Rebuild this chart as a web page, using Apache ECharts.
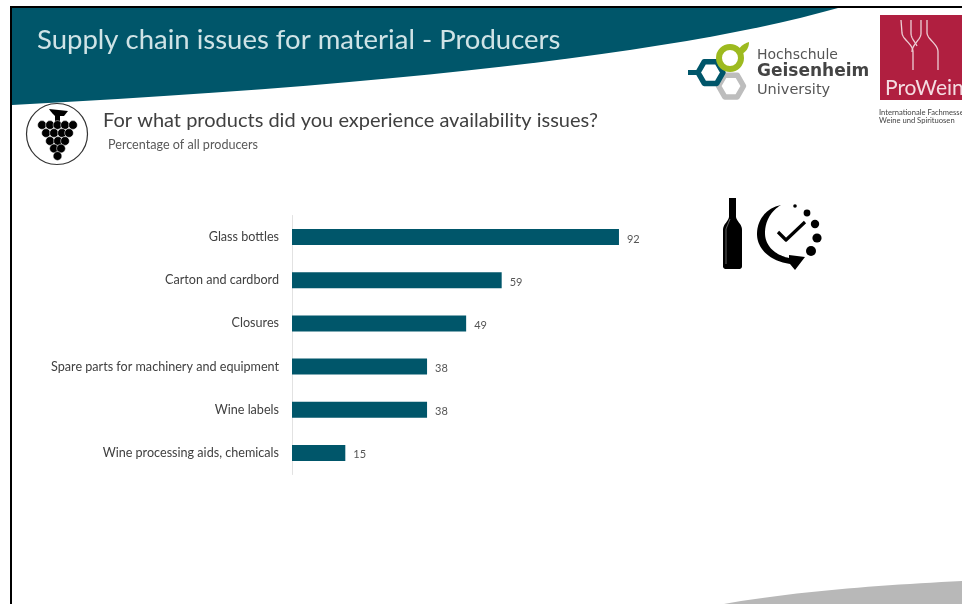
<!DOCTYPE html>
<html>
<head>
<meta charset="utf-8">
<style>html,body{margin:0;padding:0;background:#fff}#c{width:962px;height:604px}</style>
<script src="https://cdn.jsdelivr.net/npm/echarts@6/dist/echarts.min.js"></script>
</head>
<body>
<div id="c"></div>
<script>
const categories = ['Glass bottles','Carton and cardbord','Closures','Spare parts for machinery and equipment','Wine labels','Wine processing aids, chemicals'];
const shares = [92, 59, 49, 38, 38, 15];
const slideTitle = 'Supply chain issues for material - Producers';
const question = 'For what products did you experience availability issues?';
const subtitle = 'Percentage of all producers';

const TEAL = '#00566a';
const FONT = 'Lato, "Open Sans", sans-serif';

const txt = (x, y, text, fontSize, fill, extra) => ({
  type: 'text', x, y, z: 10,
  style: Object.assign({ text, fontSize, fill, fontFamily: FONT, textVerticalAlign: 'middle' }, extra || {})
});
const dot = (cx, cy, r, fill) => ({ type: 'circle', z: 9, shape: { cx, cy, r }, style: { fill: fill || '#000' } });
const hexagon = (cx, cy, r, color, w) => ({
  type: 'polygon', z: 9,
  shape: { points: [[cx - r, cy], [cx - r / 2, cy - r * 0.87], [cx + r / 2, cy - r * 0.87], [cx + r, cy], [cx + r / 2, cy + r * 0.87], [cx - r / 2, cy + r * 0.87]] },
  style: { fill: 'none', stroke: color, lineWidth: w, lineJoin: 'round' }
});

// Flatten a small M/L/C outline (absolute page coordinates) into a point list
function outline(d) {
  const tokens = d.match(/[MLCZ]|-?[\d.]+/g);
  const pts = [];
  let i = 0, cmd = null, cur = [0, 0];
  const num = () => parseFloat(tokens[i++]);
  while (i < tokens.length) {
    if (/[MLCZ]/.test(tokens[i])) cmd = tokens[i++];
    if (cmd === 'Z') continue;
    if (cmd === 'C') {
      const a = [num(), num()], b = [num(), num()], c = [num(), num()];
      for (let k = 1; k <= 24; k++) {
        const t = k / 24, u = 1 - t;
        pts.push([
          u*u*u*cur[0] + 3*u*u*t*a[0] + 3*u*t*t*b[0] + t*t*t*c[0],
          u*u*u*cur[1] + 3*u*u*t*a[1] + 3*u*t*t*b[1] + t*t*t*c[1]
        ]);
      }
      cur = c;
    } else {
      cur = [num(), num()];
      pts.push(cur);
    }
  }
  return pts;
}
const solid = (d, fill, z) => ({ type: 'polygon', z: z || 9, shape: { points: outline(d) }, style: { fill } });
const stroke = (d, color, lineWidth, z) => ({ type: 'polyline', z: z || 9, shape: { points: outline(d) }, style: { fill: 'none', stroke: color, lineWidth, lineJoin: 'round' } });

// Grape bunch badge
const grapes = [
  [42,125],[50,125],[57.5,125],[65,125],[73,125],
  [46,133],[54,133],[62,133],[69,133],
  [50,141],[58,141],[65,141],
  [54,148.5],[61,148.5],
  [57.5,156]
].map(p => ({ type: 'circle', z: 9, shape: { cx: p[0], cy: p[1], r: 4.4 }, style: { fill: '#000', stroke: '#fff', lineWidth: 0.5 } }));

const decorations = [
  solid('M12 8 L838 8 C 700 47, 450 82, 12 105 Z', TEAL, 2),
  solid('M724 604 C 790 592, 880 585, 962 581 L962 604 Z', '#b8b8b8', 2),
  { type: 'rect', z: 3, shape: { x: 10, y: 6, width: 952, height: 2 }, style: { fill: '#000' } },
  { type: 'rect', z: 3, shape: { x: 10, y: 6, width: 2, height: 598 }, style: { fill: '#000' } },

  txt(37, 40, slideTitle, 27.5, '#cfe3e6'),
  txt(103, 121, question, 20, '#404040'),
  txt(108, 145, subtitle, 12.6, '#595959'),

  { type: 'circle', z: 8, shape: { cx: 57, cy: 134, r: 30.5 }, style: { fill: '#fff', stroke: '#333', lineWidth: 1.2 } },
  solid('M49 109 L68 111 L64 116 L60 116 L60 122 L55 122 L55 116 C 53 114, 51 112, 49 109 Z', '#000'),
  ...grapes,

  // University logo
  hexagon(731, 86, 12.5, '#bdbdbd', 5.5),
  hexagon(710.5, 72.5, 12.5, TEAL, 5.5),
  { type: 'rect', z: 9, shape: { x: 688, y: 70, width: 9, height: 5 }, style: { fill: TEAL } },
  { type: 'circle', z: 9, shape: { cx: 730, cy: 58, r: 11 }, style: { fill: 'none', stroke: '#9dba1f', lineWidth: 6 } },
  solid('M737 53 C 739 47, 743 44, 749 42 C 749 48, 746 53, 739 55 Z', '#9dba1f'),
  txt(757, 55, 'Hochschule', 14, '#555', { fontFamily: '"DejaVu Sans"' }),
  txt(757, 72, 'Geisenheim', 17, '#444', { fontFamily: '"DejaVu Sans"', fontWeight: 'bold' }),
  txt(757, 90, 'University', 14.5, '#555', { fontFamily: '"DejaVu Sans"' }),

  // Trade fair logo
  { type: 'rect', z: 8, shape: { x: 880, y: 15, width: 82, height: 85 }, style: { fill: '#b01f40' } },
  stroke('M901 20 L902 33 C 903 40, 913 44, 913 52 L913 70', '#edd0d6', 1.3),
  stroke('M911 20 L911 33 C 911 38, 915 42, 917 46', '#edd0d6', 1.3),
  stroke('M921 20 L921 33 C 921 40, 912 44, 912 52', '#edd0d6', 1.3),
  stroke('M927 20 L927 33 C 928 40, 938 44, 938 52 L938 70', '#edd0d6', 1.3),
  txt(885, 88, 'ProWein', 21, '#f4dde2'),
  txt(879, 112.5, 'Internationale Fachmesse', 7.6, '#444'),
  txt(879, 120.5, 'Weine und Spirituosen', 7.6, '#444'),

  // Bottle and delivery clock
  solid('M729 198 L736 198 L736 217 C 737 222, 742 224, 742 230 L742 266 C 742 268, 741 269, 739 269 L726 269 C 724 269, 723 268, 723 266 L723 230 C 723 224, 728 222, 729 217 Z', '#000'),
  stroke('M730 219 L726 229 L726 264', '#8a8a8a', 0.7, 10),
  solid('M781 205 C 766 208, 757 220, 757 234 C 757 249, 770 261, 790 264 L795 270 L805 257 L789 255 L789 258 C 775 255, 765 246, 765 233 C 765 221, 771 211, 781 205 Z', '#000'),
  stroke('M778 232 L786 240 L805 222', '#000', 3.2),
  dot(795, 206, 1.8), dot(807, 213, 3.4), dot(815, 224, 4.2), dot(817, 238, 4.6), dot(811, 251, 5)
];

const chart = echarts.init(document.getElementById('c'), null, { renderer: 'canvas' });
chart.setOption({
  animation: false,
  backgroundColor: '#fff',
  grid: { left: 292, top: 215.5, width: 355.4, height: 259 },
  xAxis: { type: 'value', min: 0, max: 100, show: false },
  yAxis: {
    type: 'category', inverse: true, data: categories,
    axisLine: { lineStyle: { color: '#e2e2e2', width: 1 } },
    axisTick: { show: false },
    axisLabel: { margin: 13, fontSize: 12.6, color: '#404040', fontFamily: FONT }
  },
  series: [{
    type: 'bar', data: shares, barWidth: 16, z: 20,
    itemStyle: { color: TEAL },
    label: {
      show: true, position: 'right', distance: 8, offset: [0, 2],
      fontSize: 11, color: '#555', fontFamily: FONT
    }
  }],
  graphic: { elements: decorations }
});
</script>
</body>
</html>
